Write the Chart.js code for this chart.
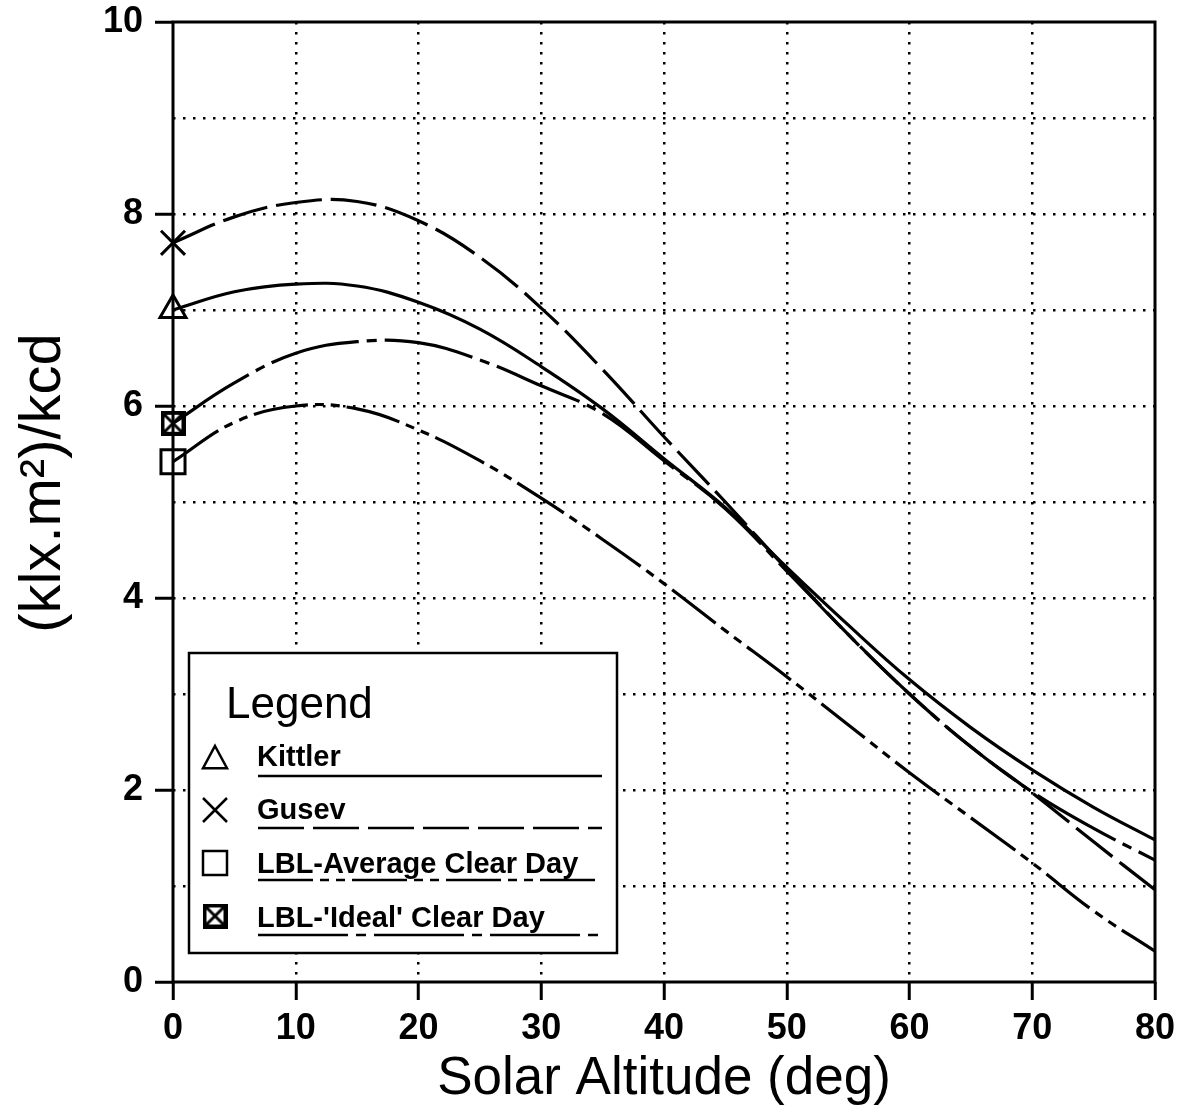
<!DOCTYPE html>
<html><head><meta charset="utf-8">
<script src="https://cdn.jsdelivr.net/npm/chart.js@4.4.1/dist/chart.umd.min.js"></script>
<style>html,body{margin:0;padding:0;background:#fff;}canvas{display:block;}</style>
</head><body>
<canvas id="c" width="1187" height="1111"></canvas>
<script>
// ---- data ----
const altitudes  = [0, 5, 10, 15, 20, 25, 30, 35, 40, 45, 50, 55, 60, 65, 70, 75, 80];
const kittler    = [7.00, 7.19, 7.27, 7.25, 7.08, 6.80, 6.41, 5.97, 5.45, 4.94, 4.32, 3.72, 3.15, 2.65, 2.21, 1.82, 1.48];
const gusev      = [7.70, 7.97, 8.12, 8.13, 7.93, 7.55, 7.02, 6.38, 5.68, 5.00, 4.30, 3.62, 3.00, 2.45, 1.97, 1.46, 0.96];
const lblAverage = [5.42, 5.83, 6.00, 5.97, 5.75, 5.43, 5.04, 4.61, 4.15, 3.66, 3.18, 2.68, 2.18, 1.71, 1.24, 0.74, 0.32];
const lblIdeal   = [5.82, 6.24, 6.55, 6.67, 6.66, 6.48, 6.21, 5.92, 5.43, 4.93, 4.28, 3.62, 3.00, 2.45, 1.98, 1.60, 1.27];
const seriesNames = ['Kittler', 'Gusev', 'LBL-Average Clear Day', "LBL-'Ideal' Clear Day"];
const xTitle = 'Solar Altitude (deg)';
const yTitle = '(klx.m\u00B2)/kcd';
const legendTitle = 'Legend';

// ---- styles ----
const FONT = "'Liberation Sans', Arial, sans-serif";
const dashKittler = [];
const dashGusev = [46, 9];
const dashAverage = [55, 7, 9, 7, 9, 7];
const dashIdeal = [90, 8, 10, 8];

function boxX(size) {
  const c = document.createElement('canvas');
  c.width = c.height = size;
  const g = c.getContext('2d');
  g.strokeStyle = '#000'; g.lineWidth = 4;
  const m = 2;
  g.strokeRect(m, m, size - 2 * m, size - 2 * m);
  g.lineWidth = 3;
  g.beginPath();
  g.moveTo(m + 1, m + 1); g.lineTo(size - m - 1, size - m - 1);
  g.moveTo(size - m - 1, m + 1); g.lineTo(m + 1, size - m - 1);
  g.stroke();
  return c;
}
const boxXImg = boxX(25);

function pts(values) { return altitudes.map((a, i) => ({x: a, y: values[i]})); }
function firstOnly(r) { return altitudes.map((a, i) => i === 0 ? r : 0); }

function ds(label, values, dash, style, radius) {
  return {
    label, data: pts(values), borderColor: '#000', backgroundColor: 'rgba(0,0,0,0)',
    borderWidth: 3.2, borderDash: dash, tension: 0.4, fill: false, clip: false,
    pointStyle: style, pointRadius: firstOnly(radius), pointHoverRadius: 0,
    pointBorderColor: '#000', pointBorderWidth: 3, pointBackgroundColor: 'rgba(0,0,0,0)'
  };
}

const frameLegend = {
  id: 'frameLegend',
  beforeDatasetsDraw(chart) {
    const {ctx, chartArea: a} = chart;
    ctx.save();
    ctx.strokeStyle = '#000'; ctx.lineWidth = 3;
    ctx.strokeRect(a.left, a.top, a.right - a.left, a.bottom - a.top);
    ctx.translate(40, 483);
    ctx.rotate(-Math.PI / 2);
    ctx.fillStyle = '#000';
    ctx.font = "58px " + FONT;
    ctx.textAlign = 'center'; ctx.textBaseline = 'middle';
    ctx.fillText(yTitle, 0, 4);
    ctx.restore();
  },
  afterDatasetsDraw(chart) {
    const ctx = chart.ctx;
    ctx.save();
    ctx.fillStyle = '#fff';
    ctx.fillRect(189, 653, 428, 300);
    ctx.strokeStyle = '#000'; ctx.lineWidth = 2.5;
    ctx.strokeRect(189, 653, 428, 300);
    ctx.fillStyle = '#000';
    ctx.textBaseline = 'alphabetic'; ctx.textAlign = 'left';
    ctx.font = "44px " + FONT;
    ctx.fillText(legendTitle, 226, 718);
    const rows = [
      {base: 766, line: 776, sym: 758, dash: dashKittler, kind: 'tri'},
      {base: 819, line: 828, sym: 810, dash: dashGusev, kind: 'x'},
      {base: 873, line: 880, sym: 863, dash: dashAverage, kind: 'sq'},
      {base: 927, line: 935, sym: 916, dash: dashIdeal, kind: 'sqx'}
    ];
    ctx.font = "bold 29px " + FONT;
    rows.forEach((r, i) => {
      ctx.fillText(seriesNames[i], 257, r.base);
      ctx.setLineDash(r.dash); ctx.lineWidth = 2.5;
      ctx.beginPath(); ctx.moveTo(258, r.line); ctx.lineTo(602, r.line); ctx.stroke();
      ctx.setLineDash([]);
      const cx = 215, cy = r.sym, h = 12;
      ctx.lineWidth = 2.5;
      ctx.beginPath();
      if (r.kind === 'tri') {
        ctx.moveTo(cx, cy - h); ctx.lineTo(cx + h, cy + h * 0.85); ctx.lineTo(cx - h, cy + h * 0.85); ctx.closePath();
        ctx.stroke();
      } else if (r.kind === 'x') {
        ctx.moveTo(cx - h, cy - h); ctx.lineTo(cx + h, cy + h);
        ctx.moveTo(cx + h, cy - h); ctx.lineTo(cx - h, cy + h); ctx.stroke();
      } else if (r.kind === 'sq') {
        ctx.strokeRect(cx - h, cy - h, 2 * h, 2 * h);
      } else {
        ctx.drawImage(boxXImg, cx - 12.5, cy - 12.5);
      }
    });
    ctx.restore();
  }
};

new Chart(document.getElementById('c'), {
  type: 'line',
  data: {
    datasets: [
      ds(seriesNames[0], kittler, dashKittler, 'triangle', 15),
      ds(seriesNames[1], gusev, dashGusev, 'crossRot', 17),
      ds(seriesNames[2], lblAverage, dashAverage, 'rect', 17),
      ds(seriesNames[3], lblIdeal, dashIdeal, boxXImg, 12)
    ]
  },
  options: {
    responsive: false, animation: false, events: [], devicePixelRatio: 1,
    layout: {padding: {left: 0, top: 22, right: 32, bottom: 0}},
    plugins: {legend: {display: false}, tooltip: {enabled: false}, title: {display: false}},
    scales: {
      x: {
        type: 'linear', min: 0, max: 80,
        ticks: {stepSize: 10, color: '#000', padding: 7, autoSkip: false, maxRotation: 0,
                font: {family: FONT, weight: 'bold', size: 36}},
        grid: {
          color: c => (c.tick && (c.tick.value === 0 || c.tick.value === 80)) ? 'rgba(0,0,0,0)' : '#000',
          lineWidth: 2.5, tickColor: '#000', tickLength: 18, tickWidth: 3
        },
        border: {display: false, dash: [2.5, 7.5]},
        title: {display: true, text: xTitle, color: '#000', padding: {top: 0, bottom: 0},
                font: {family: FONT, size: 53}},
        afterFit: s => { s.height = 129; s.paddingLeft = 0; s.paddingRight = 0; }
      },
      y: {
        type: 'linear', min: 0, max: 10,
        ticks: {stepSize: 1, color: '#000', padding: 12, autoSkip: false,
                callback: v => (v % 2 === 0 ? String(v) : ''),
                font: {family: FONT, weight: 'bold', size: 36}},
        grid: {
          color: c => (c.tick && (c.tick.value === 0 || c.tick.value === 10)) ? 'rgba(0,0,0,0)' : '#000',
          lineWidth: 2.5,
          tickColor: c => (c.tick && c.tick.value % 2 === 0) ? '#000' : 'rgba(0,0,0,0)',
          tickLength: 18, tickWidth: 3
        },
        border: {display: false, dash: [2.5, 7.5]},
        title: {display: false},
        afterFit: s => { s.width = 173; s.paddingTop = 0; s.paddingBottom = 0; }
      }
    }
  },
  plugins: [frameLegend]
});
</script>
</body></html>
